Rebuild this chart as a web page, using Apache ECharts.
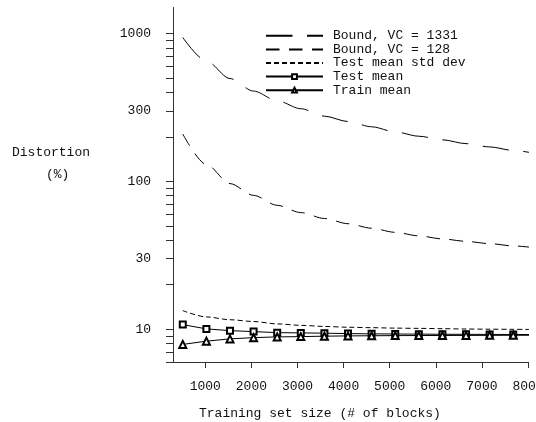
<!DOCTYPE html>
<html>
<head>
<meta charset="utf-8">
<script src="https://cdn.jsdelivr.net/npm/echarts@6/dist/echarts.min.js"></script>
<style>
html,body{margin:0;padding:0;background:#fff;}
#c{width:536px;height:422px;}
</style>
</head>
<body>
<div id="c"></div>
<script>
const xValues = [512, 1024, 1536, 2048, 2560, 3072, 3584, 4096, 4608, 5120, 5632, 6144, 6656, 7168, 7680, 8192];
const bound1331 = [940, 652, 496, 408, 351, 310, 276, 254, 234, 216, 202, 191, 180, 171, 162, 153.5];
const bound128 = [209, 130, 96.6, 80.4, 68.9, 61.5, 56.1, 51.7, 48.2, 45.2, 42.8, 40.8, 39.3, 37.9, 36.6, 35.4];
const testStdDev = [13.36, 12.11, 11.59, 11.27, 10.86, 10.62, 10.44, 10.31, 10.24, 10.17, 10.13, 10.08, 10.03, 10.0, 9.98, 9.95];
const testMean = [10.74, 10.05, 9.78, 9.63, 9.48, 9.44, 9.40, 9.34, 9.30, 9.28, 9.26, 9.24, 9.23, 9.22, 9.21, 9.20];
const trainMean = [7.89, 8.30, 8.60, 8.77, 8.87, 8.91, 8.97, 9.01, 9.03, 9.05, 9.06, 9.07, 9.08, 9.09, 9.10, 9.10];
const seriesNames = ['Bound, VC = 1331', 'Bound, VC = 128', 'Test mean std dev', 'Test mean', 'Train mean'];
const xTicks = [1000, 2000, 3000, 4000, 5000, 6000, 7000, 8000];
const yTicks = [6, 7, 8, 9, 10, 20, 30, 40, 50, 60, 70, 80, 90, 100, 200, 300, 400, 500, 600, 700, 800, 900, 1000];
const yLabels = [10, 30, 100, 300, 1000];

const FONT = 'Liberation Mono';
const INK = '#111';
const pairs = arr => xValues.map((x, i) => [x, arr[i]]);

const chart = echarts.init(document.getElementById('c'), null, {renderer: 'canvas'});
const lineBase = (name, arr, dash, extra) => Object.assign({
  name: name,
  type: 'line',
  data: pairs(arr),
  symbol: 'circle',
  showSymbol: false,
  clip: true,
  lineStyle: {color: '#000', width: 1, type: dash},
  itemStyle: {color: 'rgba(0,0,0,0)'},
  emphasis: {disabled: true},
  animation: false
}, extra || {});

chart.setOption({
  animation: false,
  textStyle: {fontFamily: FONT},
  grid: {left: 173, right: 8, top: 7.5, bottom: 60, outerBoundsMode: 'none', containLabel: false},
  legend: {
    left: 265, top: 29, orient: 'vertical', padding: 0,
    itemWidth: 57, itemHeight: 6, itemGap: 0,
    selectedMode: false,
    data: seriesNames,
    textStyle: {fontFamily: FONT, fontSize: 13, color: INK, lineHeight: 13.6, padding: [0, 0, 0, 5]}
  },
  xAxis: {
    type: 'value', min: 300, max: 8000,
    splitLine: {show: false},
    axisLine: {lineStyle: {color: '#333', width: 1}},
    axisTick: {length: 6, customValues: xTicks, lineStyle: {color: '#333'}},
    axisLabel: {customValues: xTicks, margin: 18, fontFamily: FONT, fontSize: 13, color: INK,
      formatter: v => String(Math.round(v))}
  },
  yAxis: {
    type: 'log', logBase: 10, min: 6, max: 1500,
    splitLine: {show: false},
    axisLine: {show: true, lineStyle: {color: '#333', width: 1}},
    axisTick: {show: true, length: 7, customValues: yTicks, lineStyle: {color: '#333'}},
    axisLabel: {customValues: yLabels, margin: 22, fontFamily: FONT, fontSize: 13, color: INK,
      formatter: v => String(Math.round(v))}
  },
  graphic: [
    {type: 'text', left: 12, top: 146, style: {text: 'Distortion', font: '13px "Liberation Mono"', fill: INK}},
    {type: 'text', left: 46, top: 168, style: {text: '(%)', font: '13px "Liberation Mono"', fill: INK}},
    {type: 'text', left: 199, top: 407, style: {text: 'Training set size (# of blocks)', font: '13px "Liberation Mono"', fill: INK}}
  ],
  series: [
    lineBase(seriesNames[0], bound1331, [26.5, 14.5], {smooth: 0.3, smoothMonotone: 'x'}),
    lineBase(seriesNames[1], bound128, [13.5, 9.5], {smooth: 0.3, smoothMonotone: 'x'}),
    lineBase(seriesNames[2], testStdDev, [5, 3], {smooth: 0.3, smoothMonotone: 'x'}),
    lineBase(seriesNames[3], testMean, 'solid', {symbol: 'emptyRect', symbolSize: 6, showSymbol: true,
      itemStyle: {color: '#000'}}),
    lineBase(seriesNames[4], trainMean, 'solid', {symbol: 'emptyTriangle', symbolSize: 7, showSymbol: true,
      itemStyle: {color: '#000'}})
  ]
});
</script>
</body>
</html>
